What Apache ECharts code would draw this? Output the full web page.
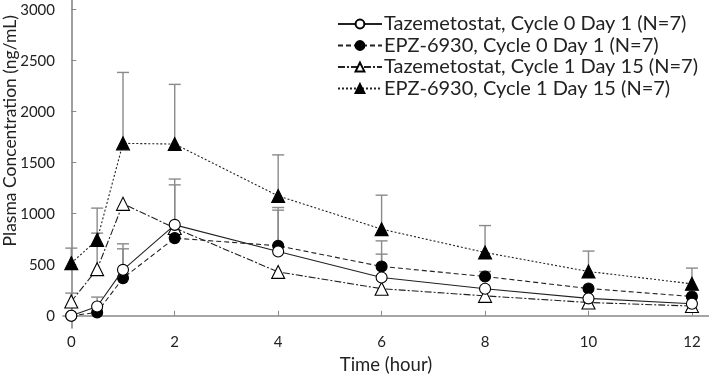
<!DOCTYPE html>
<html>
<head>
<meta charset="utf-8">
<script src="https://cdn.jsdelivr.net/npm/echarts@6/dist/echarts.min.js"></script>
<style>
  html, body { margin: 0; padding: 0; background: #fff; }
  #chart { width: 709px; height: 374px; }
</style>
</head>
<body>
<div id="chart"></div>
<script>
// hours after dose
const times = [0, 0.5, 1, 2, 4, 6, 8, 10, 12];

// mean plasma concentration (ng/mL) and mean + SD (upper whisker, null = not visible)
const tazC0 = [0, 91, 450, 891, 630, 375, 264, 170, 118];
const tazC0Upper = [null, 183, 705, 1340, 1061, 604, null, null, null];
const epzC0 = [0, 33, 369, 761, 686, 483, 385, 267, 189];
const epzC0Upper = [null, null, 656, 1283, 1035, 734, 434, null, null];
const tazC1 = [140, 457, 1097, 860, 430, 265, 195, 130, 95];
const tazC1Upper = [222, 810, null, null, null, null, null, null, null];
const epzC1 = [516, 744, 1690, 1683, 1175, 849, 620, 434, 313];
const epzC1Upper = [663, 1055, 2385, 2268, 1577, 1182, 884, 634, 467];

const yTicks = [0, 500, 1000, 1500, 2000, 2500, 3000];
const xTicks = [0, 2, 4, 6, 8, 10, 12];

const names = [
  "Tazemetostat, Cycle 0 Day 1 (N=7)",
  "EPZ-6930, Cycle 0 Day 1 (N=7)",
  "Tazemetostat, Cycle 1 Day 15 (N=7)",
  "EPZ-6930, Cycle 1 Day 15 (N=7)",
];

const font = "Lato, 'Open Sans', sans-serif";
const chart = echarts.init(document.getElementById("chart"));

function pairs(vals) {
  return times.map((t, i) => [t, vals[i]]);
}

function errData(vals, upper) {
  const out = [];
  times.forEach((t, i) => {
    if (upper[i] != null) out.push([t, vals[i], upper[i]]);
  });
  return out;
}

function errSeries(vals, upper) {
  return {
    type: "custom",
    silent: true,
    z: 1,
    data: errData(vals, upper),
    encode: { x: 0, y: [1, 2] },
    renderItem: (params, api) => {
      const p0 = api.coord([api.value(0), api.value(1)]);
      const p1 = api.coord([api.value(0), api.value(2)]);
      const st = { stroke: "#8a8a8a", lineWidth: 1.4 };
      return {
        type: "group",
        children: [
          { type: "line", shape: { x1: p0[0], y1: p0[1], x2: p1[0], y2: p1[1] }, style: st },
          { type: "line", shape: { x1: p1[0] - 6, y1: p1[1], x2: p1[0] + 6, y2: p1[1] }, style: st },
        ],
      };
    },
  };
}

function lineSeries(name, vals, symbol, filled, dash, z) {
  return {
    name,
    type: "line",
    z,
    data: pairs(vals),
    symbol,
    symbolSize: symbol === "triangle" ? 13 : 11,
    showAllSymbol: true,
    lineStyle: { color: "#222", width: 1.1, type: dash },
    itemStyle: {
      color: filled ? "#000" : "#fff",
      borderColor: "#000",
      borderWidth: 1.1,
    },
    emphasis: { disabled: true },
  };
}

chart.setOption({
  animation: false,
  grid: { left: 63, right: 0, top: 0, bottom: 46, outerBoundsMode: "none", containLabel: false },
  legend: {
    data: names,
    orient: "vertical",
    right: 6,
    top: 9,
    itemWidth: 44,
    itemHeight: 11,
    itemGap: 1.5,
    textStyle: { fontFamily: font, fontSize: 20, lineHeight: 19, color: "#222", padding: [0, 0, 0, -3] },
  },
  graphic: [
    {
      type: "text",
      left: 1,
      top: 15,
      rotation: Math.PI / 2,
      style: {
        text: "Plasma Concentration (ng/mL)",
        font: "17.5px " + font,
        fill: "#222",
      },
    },
  ],
  xAxis: {
    type: "value",
    min: -0.16,
    max: 12.33,
    name: "Time (hour)",
    nameLocation: "middle",
    nameGap: 28,
    nameTextStyle: { fontFamily: font, fontSize: 18.5, color: "#222" },
    axisLine: { lineStyle: { color: "#888", width: 1.6 } },
    axisTick: { inside: true, length: 5, customValues: xTicks, lineStyle: { color: "#888" } },
    axisLabel: { customValues: xTicks, margin: 7, fontFamily: font, fontSize: 15, color: "#222" },
    splitLine: { show: false },
  },
  yAxis: {
    type: "value",
    min: -120,
    max: 3095,
    axisLine: { show: true, lineStyle: { color: "#888", width: 1.6 } },
    axisTick: { show: true, inside: true, length: 5, customValues: yTicks, lineStyle: { color: "#888" } },
    axisLabel: {
      customValues: yTicks,
      formatter: (v) => String(v),
      margin: 8,
      fontFamily: font,
      fontSize: 15,
      color: "#222",
    },
    splitLine: { show: false },
  },
  series: [
    errSeries(tazC0, tazC0Upper),
    errSeries(epzC0, epzC0Upper),
    errSeries(tazC1, tazC1Upper),
    errSeries(epzC1, epzC1Upper),
    lineSeries(names[3], epzC1, "triangle", true, [2, 2], 3),
    lineSeries(names[2], tazC1, "triangle", false, [7, 2, 2, 2], 4),
    lineSeries(names[1], epzC0, "circle", true, [5, 3], 5),
    lineSeries(names[0], tazC0, "circle", false, "solid", 6),
  ],
});
</script>
</body>
</html>
